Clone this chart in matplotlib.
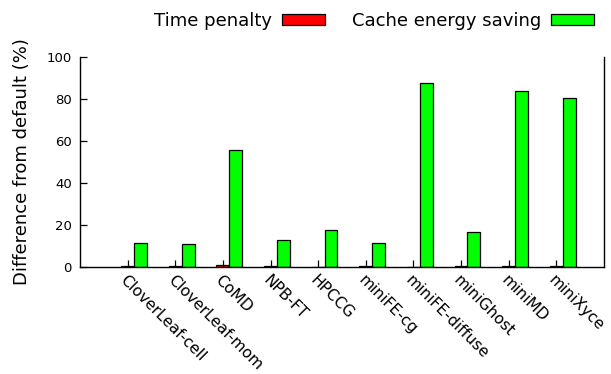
import matplotlib
matplotlib.use("Agg")
import matplotlib.pyplot as plt
import matplotlib.transforms as mtransforms
import numpy as np

benchmarks = ["CloverLeaf-cell", "CloverLeaf-mom", "CoMD", "NPB-FT", "HPCCG",
              "miniFE-cg", "miniFE-diffuse", "miniGhost", "miniMD", "miniXyce"]
time_penalty = [0.3, 0.3, 1.0, 0.3, 0.2, 0.3, 0.2, 0.4, 0.4, 0.5]
energy_saving = [11.3, 10.8, 55.6, 12.7, 17.6, 11.3, 87.6, 16.5, 83.7, 80.3]

plt.rcParams["font.family"] = "DejaVu Sans"

fig = plt.figure(figsize=(6.11, 3.74), dpi=100)
ax = fig.add_axes([0.1309, 0.2861, 0.8576, 0.5615])

x = np.arange(len(benchmarks))
w = 0.27
ax.bar(x, time_penalty, w, color="#ff0000", edgecolor="black", linewidth=0.9,
       label="Time penalty")
ax.bar(x + w, energy_saving, w, color="#00ff00", edgecolor="black", linewidth=0.9,
       label="Cache energy saving")

ax.set_xlim(-1, len(benchmarks))
ax.set_ylim(0, 100)
ax.set_yticks(range(0, 101, 20))
ax.set_xticks(x)
ax.set_xticklabels(benchmarks, rotation=-45, ha="left", va="top",
                   rotation_mode="anchor", fontsize=11.2)
# nudge the slanted labels a little to the right
shift = mtransforms.ScaledTranslation(4 / 72, 0, fig.dpi_scale_trans)
for lbl in ax.get_xticklabels():
    lbl.set_transform(lbl.get_transform() + shift)
ax.tick_params(axis="both", direction="in", length=5, width=0.9)
ax.tick_params(axis="y", labelsize=9.5, pad=6)
ax.tick_params(axis="x", pad=4)
ax.spines["top"].set_visible(False)
for s in ("left", "right", "bottom"):
    ax.spines[s].set_linewidth(1.0)

ax.set_ylabel("Difference from default (%)", fontsize=13, labelpad=11)

fig.legend(loc="center right", bbox_to_anchor=(0.987, 0.945), ncol=2,
           frameon=False, markerfirst=False, fontsize=13, borderpad=0,
           handlelength=2.4, handleheight=0.55, handletextpad=0.55,
           columnspacing=1.45)

fig.savefig("out.png", dpi=100)
